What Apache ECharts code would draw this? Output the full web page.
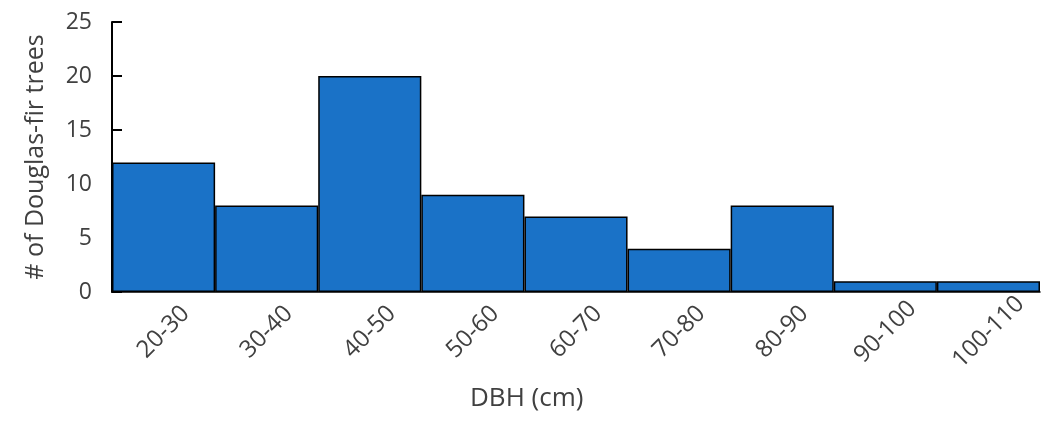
<!DOCTYPE html>
<html><head><meta charset="utf-8">
<script src="https://cdn.jsdelivr.net/npm/echarts@6/dist/echarts.min.js"></script>
<style>html,body{margin:0;padding:0;background:#fff}#c{width:1049px;height:424px}</style>
</head><body><div id="c"></div>
<script>
const categories = ['20-30','30-40','40-50','50-60','60-70','70-80','80-90','90-100','100-110'];
const counts = [12, 8, 20, 9, 7, 4, 8, 1, 1];
const yTicks = [0, 5, 10, 15, 20, 25];
const xTitle = 'DBH (cm)';
const yTitle = '# of Douglas-fir trees';

const chart = echarts.init(document.getElementById('c'), null, {renderer: 'canvas'});
const font = '"Open Sans", "Noto Sans", sans-serif';
chart.setOption({
  animation: false,
  grid: {left: 112, right: 9, top: 22, bottom: 132, containLabel: false},
  xAxis: {
    type: 'category', data: categories,
    axisLine: {show: true, lineStyle: {color: '#000', width: 1.5}},
    axisTick: {show: false},
    axisLabel: {rotate: 45, align: 'center', verticalAlign: 'middle', margin: 40, fontSize: 24, color: '#404040', fontFamily: font, interval: 0}
  },
  yAxis: {
    type: 'value', min: yTicks[0], max: yTicks[yTicks.length-1], interval: 5,
    name: yTitle, nameLocation: 'middle', nameGap: 64,
    nameTextStyle: {fontSize: 25, color: '#404040', fontFamily: font},
    axisLine: {show: true, lineStyle: {color: '#000', width: 2}},
    axisTick: {show: true, inside: true, length: 10, lineStyle: {color: '#000', width: 2}},
    axisLabel: {margin: 20, fontSize: 23, color: '#404040', fontFamily: font},
    splitLine: {show: false}
  },
  graphic: [{type: 'text', left: 470, top: 386, style: {text: xTitle, fontSize: 26, fill: '#404040', fontFamily: font}}],
  series: [{
    type: 'bar', data: counts, barCategoryGap: 0, barGap: 0,
    itemStyle: {color: '#1a72c7', borderColor: '#000', borderWidth: 1.5}
  }]
});
</script></body></html>
